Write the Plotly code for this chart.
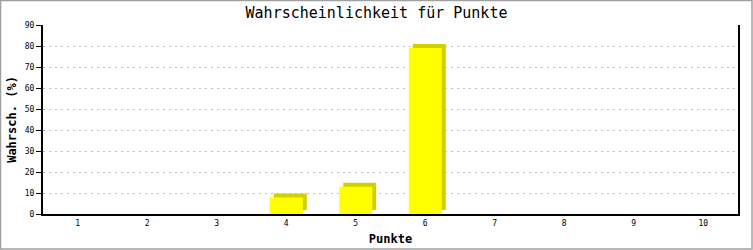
import plotly.graph_objects as go

categories = ["1", "2", "3", "4", "5", "6", "7", "8", "9", "10"]
values = [0, 0, 0, 7.9, 13.0, 79.1, 0, 0, 0, 0]
title_text = "Wahrscheinlichkeit für Punkte"
x_title = "Punkte"
y_title = "Wahrsch. (%)"

W, H = 753, 250
ML, MR, MT, MB = 43, 15, 25, 36
PW, PH = W - ML - MR, H - MT - MB

bar_w = 0.475
dx = 4.0 / PW * 10          # shadow shift in category units
dy = 4.0 / PH * 90          # shadow shift in value units

FONT = "DejaVu Sans Mono"

fig = go.Figure()
# 3D shadow
fig.add_trace(go.Bar(
    x=categories, y=values, base=[dy if v > 0 else 0 for v in values],
    width=bar_w, offset=-bar_w / 2 + dx,
    marker=dict(color="#d2cf00", line=dict(width=0)),
    hoverinfo="skip", showlegend=False,
))
# front face
fig.add_trace(go.Bar(
    x=categories, y=values,
    width=bar_w, offset=-bar_w / 2,
    marker=dict(color="#ffff00", line=dict(width=0)),
    showlegend=False,
))

fig.update_layout(
    width=W, height=H,
    margin=dict(l=ML, r=MR, t=MT, b=MB, pad=0, autoexpand=False),
    paper_bgcolor="white", plot_bgcolor="white",
    barmode="overlay",
    title=dict(text=title_text, x=0.5, xanchor="center", y=1 - 13 / H, yanchor="middle",
               font=dict(family=FONT, size=15, color="black")),
    font=dict(family=FONT, color="black"),
    xaxis=dict(
        type="category", range=[-0.5, 9.5], automargin=False,
        showline=True, linecolor="black", linewidth=2, mirror=False,
        ticks="", showgrid=False, zeroline=False,
        tickfont=dict(family=FONT, size=8, color="black"),
        title=dict(text=x_title, font=dict(family=FONT, size=12, weight="bold"), standoff=8),
    ),
    yaxis=dict(
        range=[0, 90], dtick=10, tick0=0, automargin=False,
        showline=True, linecolor="black", linewidth=2, mirror=True,
        ticks="outside", ticklen=5, tickcolor="black", tickwidth=1,
        showgrid=True, gridcolor="#c0c0c0", gridwidth=1, griddash="2px,4px",
        zeroline=False,
        tickfont=dict(family=FONT, size=8, color="black"),
        title=dict(text=y_title, font=dict(family=FONT, size=12, weight="bold"), standoff=6),
    ),
    shapes=[dict(
        type="rect", xref="paper", yref="paper",
        x0=(-ML + 0.5) / PW, x1=(W - ML - 1) / PW,
        y0=(-MB + 1) / PH, y1=(H - MB - 0.5) / PH,
        line=dict(color="#a0a0a0", width=1.5), layer="above",
    )],
)

fig.write_html("out.html")
